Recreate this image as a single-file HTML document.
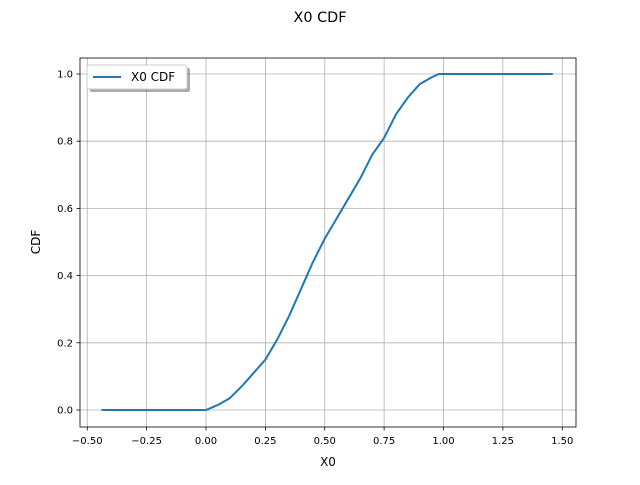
<!DOCTYPE html>
<html><head><meta charset="utf-8"><style>
body{margin:0;background:#fff;}
text{font-family:"DejaVu Sans","Liberation Sans",sans-serif;}
</style></head><body>
<svg id="chart" width="640" height="480" xmlns="http://www.w3.org/2000/svg">
<rect width="640" height="480" fill="#fff"/>
<text x="320" y="22" font-size="14.4" text-anchor="middle">X0 CDF</text>
<g id="grid"></g>
<g id="axes"></g>
<polyline id="line" fill="none" stroke="#1f77b4" stroke-width="2"/>
<rect x="80" y="58" width="496" height="369" fill="none" stroke="#000" stroke-width="0.8"/>
<g>
<rect x="90" y="68" width="100" height="24" rx="2" fill="#555" opacity="0.5"/>
<rect x="87" y="65" width="100" height="24" rx="2" fill="#fff" stroke="#ccc"/>
<line x1="93" y1="77" x2="121" y2="77" stroke="#1f77b4" stroke-width="2"/>
<text x="131" y="81" font-size="12">X0 CDF</text>
</g>
<text x="328" y="466" font-size="12" text-anchor="middle">X0</text>
<text x="0" y="0" font-size="12" text-anchor="middle" transform="translate(40,242) rotate(-90)">CDF</text>
</svg>
<script>
const xTicks=[-0.5,-0.25,0,0.25,0.5,0.75,1.0,1.25,1.5];
const xTickLabels=["−0.50","−0.25","0.00","0.25","0.50","0.75","1.00","1.25","1.50"];
const yTicks=[0,0.2,0.4,0.6,0.8,1.0];
const yTickLabels=["0.0","0.2","0.4","0.6","0.8","1.0"];
const xValues=[-0.44,0.0,0.05,0.1,0.15,0.2,0.25,0.3,0.35,0.4,0.45,0.5,0.55,0.6,0.65,0.7,0.75,0.8,0.85,0.9,0.95,0.98,1.46];
const cdfValues=[0,0,0.015,0.035,0.07,0.11,0.15,0.21,0.28,0.36,0.44,0.51,0.57,0.63,0.69,0.76,0.81,0.88,0.93,0.97,0.99,1.0,1.0];
const sx=v=>206+v*237.5, sy=v=>410-336*v;
const grid=document.getElementById('grid'), axes=document.getElementById('axes');
const NS='http://www.w3.org/2000/svg';
function mk(t,a,p){const e=document.createElementNS(NS,t);for(const k in a)e.setAttribute(k,a[k]);p.appendChild(e);return e;}
xTicks.forEach((v,i)=>{const x=sx(v);
const g=mk('line',{x1:x,x2:x,y1:58,y2:427,stroke:'#b0b0b0','stroke-width':0.8},grid);


mk('line',{x1:x,x2:x,y1:427,y2:430.5,stroke:'#000','stroke-width':0.8},axes);
const t=mk('text',{x:x,y:444,'font-size':10,'text-anchor':'middle'},axes);t.textContent=xTickLabels[i];

});
yTicks.forEach((v,i)=>{const y=sy(v);
const g=mk('line',{x1:80,x2:576,y1:y,y2:y,stroke:'#b0b0b0','stroke-width':0.8},grid);


mk('line',{x1:76.5,x2:80,y1:y,y2:y,stroke:'#000','stroke-width':0.8},axes);
const t=mk('text',{x:73,y:y+3.5,'font-size':10,'text-anchor':'end'},axes);t.textContent=yTickLabels[i];

});
document.getElementById('line').setAttribute('points',xValues.map((v,i)=>sx(v)+','+sy(cdfValues[i])).join(' '));
</script>
</body></html>
